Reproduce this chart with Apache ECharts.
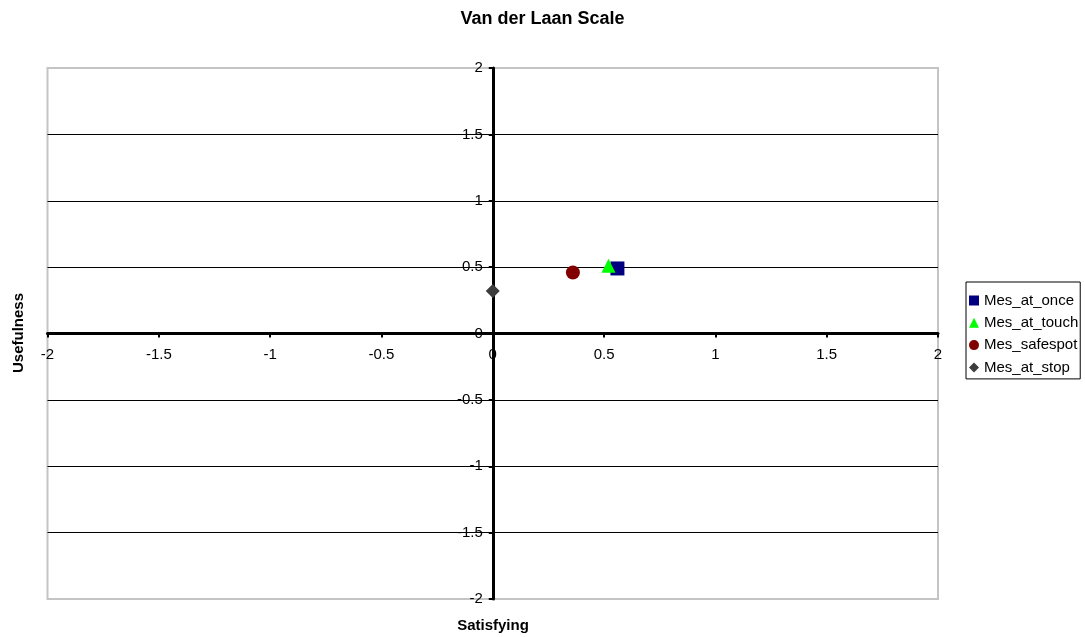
<!DOCTYPE html>
<html>
<head>
<meta charset="utf-8">
<script src="https://cdn.jsdelivr.net/npm/echarts@6/dist/echarts.min.js"></script>
<style>html,body{margin:0;padding:0;background:#fff}#c{width:1085px;height:637px}</style>
</head>
<body>
<div id="c"></div>
<script>
const seriesNames = ['Mes_at_once', 'Mes_at_touch', 'Mes_safespot', 'Mes_at_stop'];
const mesAtOnce = [[0.56, 0.49]];
const mesAtTouch = [[0.52, 0.51]];
const mesSafespot = [[0.36, 0.46]];
const mesAtStop = [[0, 0.32]];
const seriesData = [mesAtOnce, mesAtTouch, mesSafespot, mesAtStop];
const symbols = ['rect', 'triangle', 'circle', 'diamond'];
const colors = ['#000080', '#00ff00', '#800000', '#3c3c3c'];
const axisMin = -2, axisMax = 2, axisStep = 0.5;

const W = 1085, H = 637;
const G = { left: 47.5, right: 147, top: 68, bottom: 38 };
const gw = W - G.left - G.right, gh = H - G.top - G.bottom;
// place each axis at the other axis' zero (range is symmetric)
const xOff = -gh * (0 - axisMin) / (axisMax - axisMin);
const yOff = -gw * (0 - axisMin) / (axisMax - axisMin);

const FONT = 'Liberation Sans, Arial, sans-serif';
const chart = echarts.init(document.getElementById('c'));
chart.setOption({
  animation: false,
  backgroundColor: '#fff',
  title: {
    text: 'Van der Laan Scale',
    left: 'center',
    top: 5,
    textStyle: { fontFamily: FONT, fontSize: 18, fontWeight: 'bold', color: '#000' }
  },
  grid: {
    left: G.left, right: G.right, top: G.top, bottom: G.bottom,
    show: true, borderColor: '#c4c4c4', borderWidth: 2, backgroundColor: 'transparent'
  },
  legend: {
    orient: 'vertical',
    left: 966, top: 282,
    data: seriesNames,
    itemWidth: 10, itemHeight: 10, itemGap: 7.3, itemTextGap: 3,
    padding: [11, 2, 4, 3],
    borderColor: '#000', borderWidth: 1,
    textStyle: { fontFamily: FONT, fontSize: 15, color: '#000' }
  },
  xAxis: {
    type: 'value', min: axisMin, max: axisMax, interval: axisStep,
    position: 'bottom', offset: xOff,
    axisLine: { onZero: false, lineStyle: { color: '#000', width: 3 } },
    axisTick: { show: true, length: 4, lineStyle: { color: '#000', width: 2 } },
    axisLabel: { margin: 14, fontFamily: FONT, fontSize: 15, color: '#000' },
    splitLine: { show: false }
  },
  yAxis: {
    type: 'value', min: axisMin, max: axisMax, interval: axisStep,
    position: 'left', offset: yOff,
    axisLine: { onZero: false, lineStyle: { color: '#000', width: 3 } },
    axisTick: { show: true, length: 4, lineStyle: { color: '#000', width: 2 } },
    axisLabel: { margin: 10, fontFamily: FONT, fontSize: 15, color: '#000' },
    splitLine: { show: true, showMinLine: false, showMaxLine: false, lineStyle: { color: '#000', width: 1 } }
  },
  graphic: [
    { type: 'text', x: 493, y: 626, style: { text: 'Satisfying', font: 'bold 15px ' + FONT, fill: '#000', textAlign: 'center', textVerticalAlign: 'middle' } },
    { type: 'text', x: 19, y: 333, rotation: Math.PI / 2, style: { text: 'Usefulness', font: 'bold 15px ' + FONT, fill: '#000', textAlign: 'center', textVerticalAlign: 'middle' } }
  ],
  series: seriesNames.map((name, i) => ({
    name: name,
    type: 'scatter',
    data: seriesData[i],
    symbol: symbols[i],
    symbolSize: 14,
    itemStyle: { color: colors[i], opacity: 1 },
    z: 3 + i
  }))
});
</script>
</body>
</html>
